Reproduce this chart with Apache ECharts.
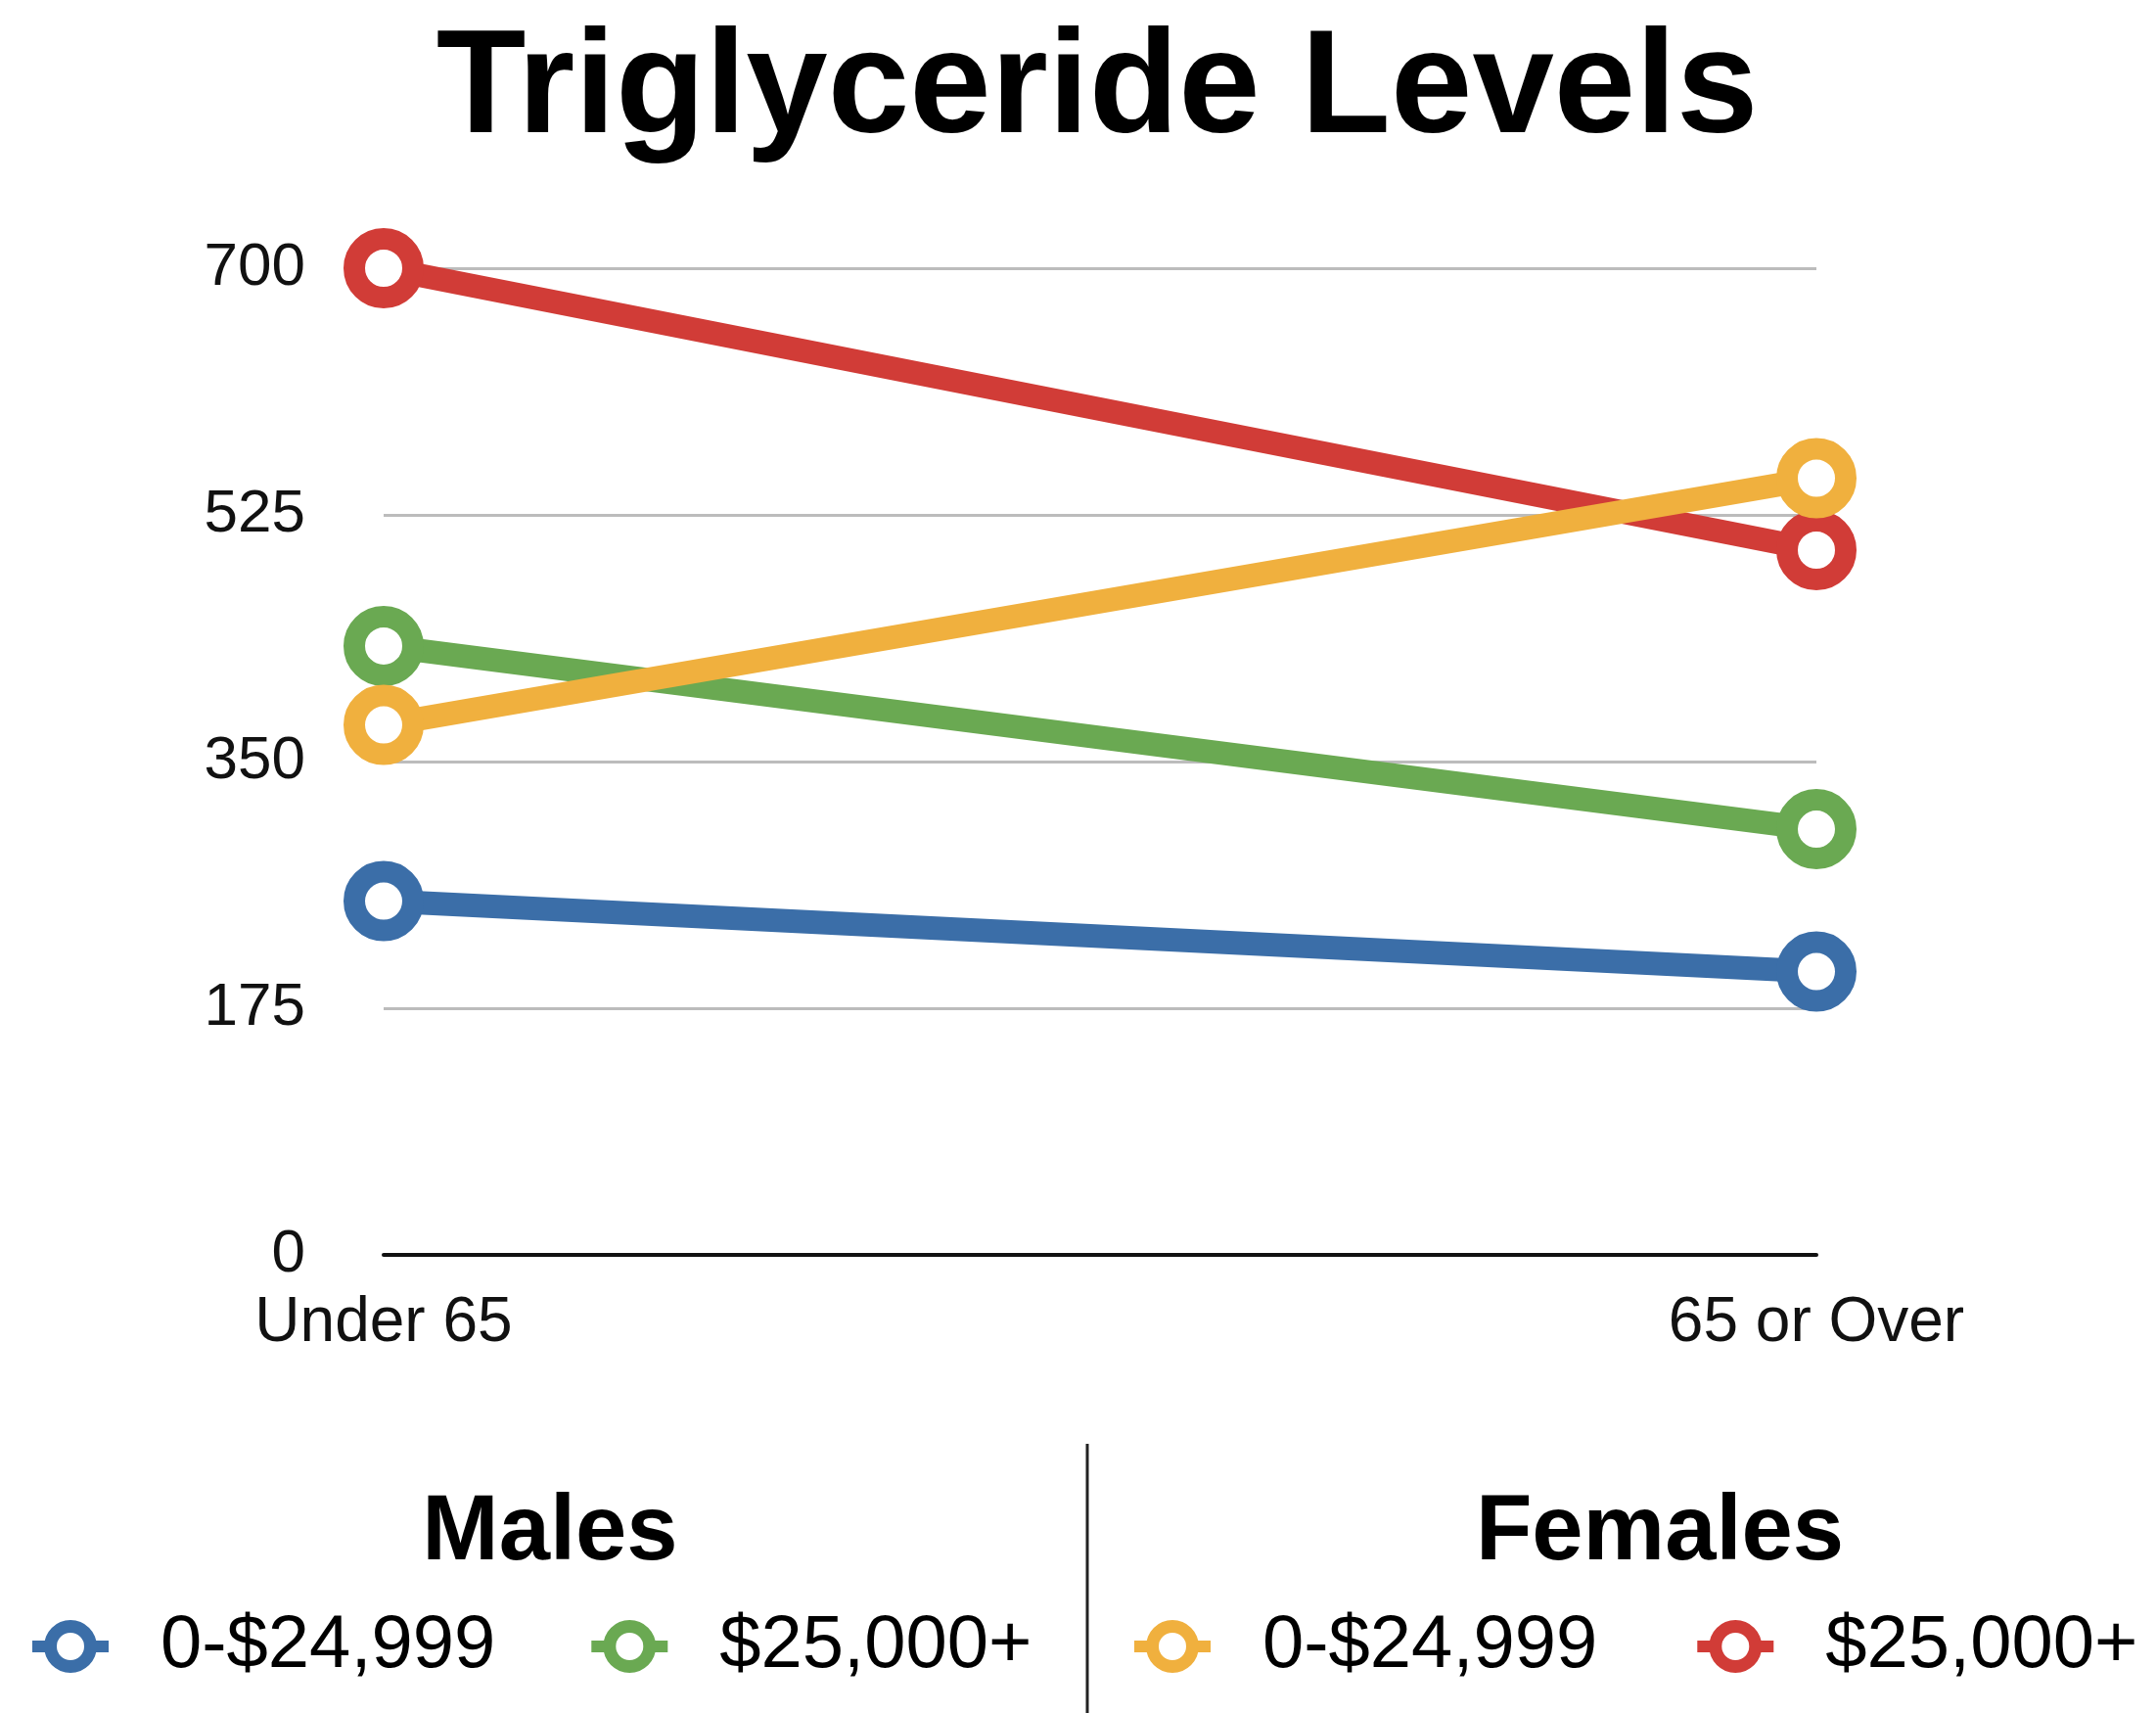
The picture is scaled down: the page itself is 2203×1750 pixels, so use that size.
<!DOCTYPE html>
<html lang="en">
<head>
    <meta charset="UTF-8">
    <title>Triglyceride Levels</title>
    <script src="https://cdn.jsdelivr.net/npm/echarts@6/dist/echarts.min.js"></script>
    <style>
        html, body { margin: 0; padding: 0; background: #fff; }
    </style>
</head>
<body>
<div id="chart" style="width:2203px;height:1750px;"></div>
<script>
    // data
    var ageGroups = ['Under 65', '65 or Over'];
    var yTicks = [0, 175, 350, 525, 700];

    var malesLow = [251, 201];      // Males 0-$24,999
    var malesHigh = [432, 302];     // Males $25,000+
    var femalesLow = [376, 551];    // Females 0-$24,999
    var femalesHigh = [700, 500];   // Females $25,000+

    var colors = {
        blue: '#3b6ea8',
        green: '#6aa952',
        orange: '#f0b03e',
        red: '#d13c37'
    };

    var font = 'Liberation Sans, Arial, Helvetica, sans-serif';

    // ring with a short line stub each side, like the original legend marks
    var legendIcon = 'path://M12,29 A27,27 0 1,1 66,29 A27,27 0 1,1 12,29 Z ' +
        'M25,29 A14,14 0 1,0 53,29 A14,14 0 1,0 25,29 Z ' +
        'M0,23 H14 V35 H0 Z M64,23 H78 V35 H64 Z';

    function makeSeries(name, data, color) {
        return {
            name: name,
            type: 'line',
            data: data,
            symbol: 'circle',
            symbolSize: 60,
            lineStyle: { color: color, width: 24 },
            itemStyle: { color: '#fff', borderColor: color, borderWidth: 22 },
            emphasis: { disabled: true },
            animation: false
        };
    }

    function legendItem(name, color) {
        return {
            name: name,
            icon: legendIcon,
            itemStyle: { color: color, borderWidth: 0 }
        };
    }

    var legendText = {
        fontFamily: font,
        fontSize: 76,
        color: '#000',
        lineHeight: 76,
        padding: [0, 0, 0, 48]
    };

    var myChart = echarts.init(document.getElementById('chart'));

    var option = {
        backgroundColor: '#fff',
        title: [{
            text: 'Triglyceride Levels',
            left: 1121,
            top: 19,
            padding: 0,
            textAlign: 'center',
            textStyle: { fontFamily: font, fontSize: 150, fontWeight: 'bold', color: '#000' }
        }, {
            text: 'Males',
            left: 562,
            top: 1520,
            padding: 0,
            textAlign: 'center',
            textStyle: { fontFamily: font, fontSize: 94, fontWeight: 'bold', color: '#000' }
        }, {
            text: 'Females',
            left: 1696,
            top: 1520,
            padding: 0,
            textAlign: 'center',
            textStyle: { fontFamily: font, fontSize: 94, fontWeight: 'bold', color: '#000' }
        }],
        legend: [{
            left: 33,
            top: 1644,
            padding: 0,
            itemWidth: 78,
            itemHeight: 58,
            itemGap: 98,
            selectedMode: false,
            data: [legendItem('Males 0-$24,999', colors.blue), legendItem('Males $25,000+', colors.green)],
            formatter: function (name) { return name.split(' ')[1]; },
            textStyle: legendText
        }, {
            left: 1159,
            top: 1644,
            padding: 0,
            itemWidth: 78,
            itemHeight: 58,
            itemGap: 102,
            selectedMode: false,
            data: [legendItem('Females 0-$24,999', colors.orange), legendItem('Females $25,000+', colors.red)],
            formatter: function (name) { return name.split(' ')[1]; },
            textStyle: legendText
        }],
        grid: {
            left: 392,
            right: 347,
            top: 274,
            bottom: 468,
            containLabel: false
        },
        xAxis: {
            type: 'category',
            data: ageGroups,
            boundaryGap: false,
            axisLine: { show: true, lineStyle: { color: '#111', width: 4 } },
            axisTick: { show: false },
            splitLine: { show: false },
            axisLabel: {
                margin: 38,
                fontFamily: font,
                fontSize: 64,
                color: '#111'
            }
        },
        yAxis: {
            type: 'value',
            min: yTicks[0],
            max: yTicks[yTicks.length - 1],
            interval: yTicks[1] - yTicks[0],
            axisLine: { show: false },
            axisTick: { show: false },
            splitLine: { lineStyle: { color: '#bcbcbc', width: 3 } },
            axisLabel: {
                margin: 80,
                fontFamily: font,
                fontSize: 62,
                color: '#111'
            }
        },
        graphic: [{
            type: 'line',
            shape: { x1: 1111, y1: 1475, x2: 1111, y2: 1750 },
            style: { stroke: '#222', lineWidth: 3 }
        }],
        series: [
            makeSeries('Males 0-$24,999', malesLow, colors.blue),
            makeSeries('Males $25,000+', malesHigh, colors.green),
            makeSeries('Females $25,000+', femalesHigh, colors.red),
            makeSeries('Females 0-$24,999', femalesLow, colors.orange)
        ]
    };

    myChart.setOption(option);
</script>
</body>
</html>
